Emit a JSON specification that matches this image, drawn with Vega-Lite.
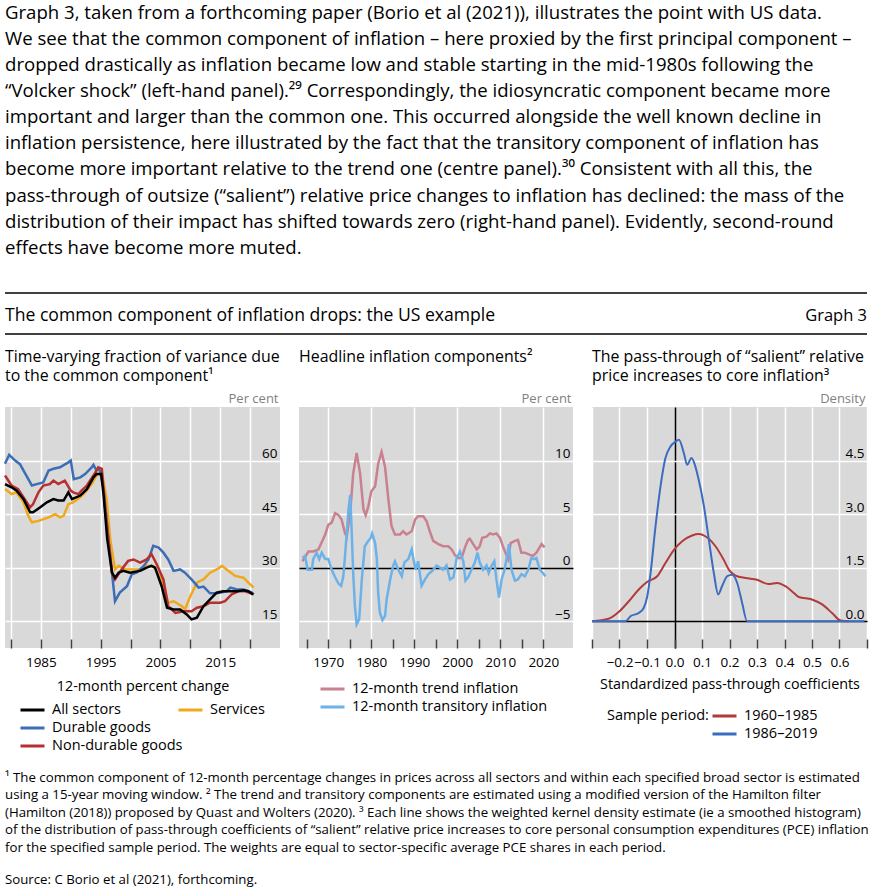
{
  "$schema": "https://vega.github.io/schema/vega-lite/v6.json",
  "background": "white",
  "padding": {"left": 0, "right": 5, "top": 3, "bottom": 0},
  "spacing": 14,
  "title": {
    "text": [
      "Graph 3, taken from a forthcoming paper (Borio et al (2021)), illustrates the point with US data.",
      "We see that the common component of inflation – here proxied by the first principal component –",
      "dropped drastically as inflation became low and stable starting in the mid-1980s following the",
      "“Volcker shock” (left-hand panel).²⁹ Correspondingly, the idiosyncratic component became more",
      "important and larger than the common one. This occurred alongside the well known decline in",
      "inflation persistence, here illustrated by the fact that the transitory component of inflation has",
      "become more important relative to the trend one (centre panel).³⁰ Consistent with all this, the",
      "pass-through of outsize (“salient”) relative price changes to inflation has declined: the mass of the",
      "distribution of their impact has shifted towards zero (right-hand panel). Evidently, second-round",
      "effects have become more muted."
    ],
    "fontSize": 18.6,
    "lineHeight": 26.1,
    "offset": 35
  },
  "config": {
    "font": "Open Sans",
    "view": {"stroke": null},
    "title": {"font": "Open Sans", "fontWeight": "normal", "color": "black", "anchor": "start", "frame": "group"},
    "axis": {"labelFont": "Open Sans", "titleFont": "Open Sans", "labelColor": "black", "titleColor": "black", "titleFontWeight": "normal"},
    "legend": {
      "labelFont": "Open Sans", "titleFont": "Open Sans", "labelFontSize": 14.5, "titleFontSize": 14.5,
      "titleFontWeight": "normal", "labelColor": "black", "titleColor": "black",
      "symbolType": "stroke", "symbolStrokeWidth": 3, "symbolSize": 576, "labelOffset": 6,
      "labelLimit": 400, "rowPadding": 0, "padding": 0, "clipHeight": 18
    }
  },
  "vconcat": [
    {
      "width": 862,
      "height": 41,
      "data": {"values": [{"left": "The common component of inflation drops: the US example", "right": "Graph 3"}]},
      "encoding": {
        "y": {"datum": 0.45, "type": "quantitative", "scale": {"domain": [0, 1], "nice": false, "zero": false}, "axis": null}
      },
      "layer": [
        {
          "mark": {"type": "rule", "color": "black", "strokeWidth": 1.3},
          "encoding": {
            "y": {"datum": 1, "type": "quantitative"},
            "x": {"datum": 0, "type": "quantitative", "scale": {"domain": [0, 1], "nice": false, "zero": false}, "axis": null},
            "x2": {"datum": 1}
          }
        },
        {
          "mark": {"type": "rule", "color": "black", "strokeWidth": 1.3},
          "encoding": {
            "y": {"datum": 0, "type": "quantitative"},
            "x": {"datum": 0, "type": "quantitative"},
            "x2": {"datum": 1}
          }
        },
        {
          "mark": {"type": "text", "align": "left", "baseline": "middle", "fontSize": 17.6, "font": "Open Sans", "color": "black"},
          "encoding": {"text": {"field": "left"}, "x": {"datum": 0, "type": "quantitative"}}
        },
        {
          "mark": {"type": "text", "align": "right", "baseline": "middle", "fontSize": 16.5, "font": "Open Sans", "color": "black"},
          "encoding": {"text": {"field": "right"}, "x": {"datum": 1, "type": "quantitative"}}
        }
      ]
    },
    {
      "bounds": "flush",
      "spacing": 19,
      "resolve": {"scale": {"color": "independent"}, "legend": {"color": "independent"}},
      "hconcat": [
        {
          "width": 275,
          "height": 241,
          "view": {"fill": "#d9d9d9", "stroke": null},
          "title": {"text": ["Time-varying fraction of variance due", "to the common component¹"], "fontSize": 15.9, "lineHeight": 19, "offset": 8},
          "data": {"values": [
            {"series": "Services", "year": 1979.0, "value": 52.0},
            {"series": "Services", "year": 1980.1, "value": 50.6},
            {"series": "Services", "year": 1980.9, "value": 51.1},
            {"series": "Services", "year": 1982.1, "value": 48.3},
            {"series": "Services", "year": 1982.9, "value": 44.5},
            {"series": "Services", "year": 1983.5, "value": 42.7},
            {"series": "Services", "year": 1984.6, "value": 43.1},
            {"series": "Services", "year": 1986.3, "value": 44.1},
            {"series": "Services", "year": 1987.4, "value": 45.0},
            {"series": "Services", "year": 1988.2, "value": 44.1},
            {"series": "Services", "year": 1988.8, "value": 44.5},
            {"series": "Services", "year": 1989.6, "value": 47.8},
            {"series": "Services", "year": 1990.4, "value": 48.3},
            {"series": "Services", "year": 1991.6, "value": 49.7},
            {"series": "Services", "year": 1992.4, "value": 51.1},
            {"series": "Services", "year": 1993.5, "value": 53.4},
            {"series": "Services", "year": 1994.3, "value": 55.8},
            {"series": "Services", "year": 1995.2, "value": 56.7},
            {"series": "Services", "year": 1996.0, "value": 49.2},
            {"series": "Services", "year": 1996.6, "value": 38.0},
            {"series": "Services", "year": 1997.4, "value": 29.5},
            {"series": "Services", "year": 1998.0, "value": 30.5},
            {"series": "Services", "year": 1999.1, "value": 29.5},
            {"series": "Services", "year": 2000.2, "value": 29.5},
            {"series": "Services", "year": 2001.6, "value": 29.5},
            {"series": "Services", "year": 2002.7, "value": 30.5},
            {"series": "Services", "year": 2003.8, "value": 30.5},
            {"series": "Services", "year": 2005.2, "value": 26.7},
            {"series": "Services", "year": 2006.3, "value": 20.2},
            {"series": "Services", "year": 2007.2, "value": 20.6},
            {"series": "Services", "year": 2008.6, "value": 19.2},
            {"series": "Services", "year": 2009.1, "value": 18.3},
            {"series": "Services", "year": 2010.0, "value": 22.0},
            {"series": "Services", "year": 2011.1, "value": 25.8},
            {"series": "Services", "year": 2012.2, "value": 26.7},
            {"series": "Services", "year": 2013.3, "value": 28.6},
            {"series": "Services", "year": 2014.4, "value": 29.5},
            {"series": "Services", "year": 2015.3, "value": 30.5},
            {"series": "Services", "year": 2016.4, "value": 29.1},
            {"series": "Services", "year": 2017.5, "value": 27.7},
            {"series": "Services", "year": 2018.9, "value": 27.2},
            {"series": "Services", "year": 2019.7, "value": 25.8},
            {"series": "Services", "year": 2020.6, "value": 24.4},
            {"series": "Durable goods", "year": 1979.0, "value": 59.1},
            {"series": "Durable goods", "year": 1979.7, "value": 61.6},
            {"series": "Durable goods", "year": 1980.7, "value": 60.0},
            {"series": "Durable goods", "year": 1981.5, "value": 59.0},
            {"series": "Durable goods", "year": 1982.9, "value": 54.8},
            {"series": "Durable goods", "year": 1983.5, "value": 53.0},
            {"series": "Durable goods", "year": 1984.3, "value": 53.4},
            {"series": "Durable goods", "year": 1985.4, "value": 53.9},
            {"series": "Durable goods", "year": 1986.3, "value": 57.2},
            {"series": "Durable goods", "year": 1987.1, "value": 57.7},
            {"series": "Durable goods", "year": 1988.2, "value": 58.1},
            {"series": "Durable goods", "year": 1989.6, "value": 59.5},
            {"series": "Durable goods", "year": 1990.0, "value": 60.0},
            {"series": "Durable goods", "year": 1990.5, "value": 54.8},
            {"series": "Durable goods", "year": 1991.6, "value": 55.3},
            {"series": "Durable goods", "year": 1992.4, "value": 56.2},
            {"series": "Durable goods", "year": 1993.5, "value": 58.1},
            {"series": "Durable goods", "year": 1993.8, "value": 58.8},
            {"series": "Durable goods", "year": 1994.3, "value": 57.2},
            {"series": "Durable goods", "year": 1994.8, "value": 57.7},
            {"series": "Durable goods", "year": 1995.5, "value": 52.0},
            {"series": "Durable goods", "year": 1996.3, "value": 38.0},
            {"series": "Durable goods", "year": 1997.4, "value": 20.6},
            {"series": "Durable goods", "year": 1998.2, "value": 23.0},
            {"series": "Durable goods", "year": 1999.4, "value": 24.8},
            {"series": "Durable goods", "year": 2000.2, "value": 28.1},
            {"series": "Durable goods", "year": 2001.0, "value": 28.6},
            {"series": "Durable goods", "year": 2002.2, "value": 30.5},
            {"series": "Durable goods", "year": 2003.0, "value": 32.3},
            {"series": "Durable goods", "year": 2003.8, "value": 36.1},
            {"series": "Durable goods", "year": 2004.7, "value": 35.6},
            {"series": "Durable goods", "year": 2005.5, "value": 34.2},
            {"series": "Durable goods", "year": 2006.3, "value": 32.3},
            {"series": "Durable goods", "year": 2007.2, "value": 29.1},
            {"series": "Durable goods", "year": 2008.3, "value": 29.5},
            {"series": "Durable goods", "year": 2009.1, "value": 28.6},
            {"series": "Durable goods", "year": 2010.2, "value": 26.7},
            {"series": "Durable goods", "year": 2011.4, "value": 24.4},
            {"series": "Durable goods", "year": 2012.2, "value": 24.7},
            {"series": "Durable goods", "year": 2013.3, "value": 22.8},
            {"series": "Durable goods", "year": 2014.4, "value": 22.8},
            {"series": "Durable goods", "year": 2016.1, "value": 23.4},
            {"series": "Durable goods", "year": 2016.7, "value": 24.4},
            {"series": "Durable goods", "year": 2017.8, "value": 23.9},
            {"series": "Durable goods", "year": 2018.9, "value": 23.9},
            {"series": "Durable goods", "year": 2020.3, "value": 23.0},
            {"series": "Durable goods", "year": 2020.6, "value": 22.5},
            {"series": "Non-durable goods", "year": 1979.0, "value": 55.8},
            {"series": "Non-durable goods", "year": 1980.1, "value": 53.0},
            {"series": "Non-durable goods", "year": 1981.2, "value": 52.0},
            {"series": "Non-durable goods", "year": 1982.3, "value": 49.2},
            {"series": "Non-durable goods", "year": 1983.2, "value": 46.9},
            {"series": "Non-durable goods", "year": 1983.7, "value": 47.8},
            {"series": "Non-durable goods", "year": 1984.6, "value": 51.1},
            {"series": "Non-durable goods", "year": 1985.4, "value": 53.0},
            {"series": "Non-durable goods", "year": 1986.5, "value": 53.4},
            {"series": "Non-durable goods", "year": 1987.1, "value": 54.4},
            {"series": "Non-durable goods", "year": 1987.9, "value": 53.4},
            {"series": "Non-durable goods", "year": 1989.0, "value": 54.4},
            {"series": "Non-durable goods", "year": 1990.0, "value": 51.6},
            {"series": "Non-durable goods", "year": 1990.4, "value": 51.1},
            {"series": "Non-durable goods", "year": 1991.3, "value": 50.6},
            {"series": "Non-durable goods", "year": 1991.8, "value": 51.6},
            {"series": "Non-durable goods", "year": 1992.7, "value": 53.0},
            {"series": "Non-durable goods", "year": 1993.8, "value": 55.8},
            {"series": "Non-durable goods", "year": 1994.6, "value": 58.1},
            {"series": "Non-durable goods", "year": 1995.2, "value": 57.7},
            {"series": "Non-durable goods", "year": 1995.7, "value": 47.3},
            {"series": "Non-durable goods", "year": 1996.3, "value": 38.0},
            {"series": "Non-durable goods", "year": 1996.9, "value": 28.6},
            {"series": "Non-durable goods", "year": 1997.4, "value": 26.7},
            {"series": "Non-durable goods", "year": 1998.5, "value": 29.5},
            {"series": "Non-durable goods", "year": 1999.6, "value": 31.9},
            {"series": "Non-durable goods", "year": 2000.5, "value": 32.3},
            {"series": "Non-durable goods", "year": 2001.6, "value": 31.4},
            {"series": "Non-durable goods", "year": 2002.7, "value": 32.3},
            {"series": "Non-durable goods", "year": 2003.5, "value": 33.8},
            {"series": "Non-durable goods", "year": 2004.4, "value": 30.9},
            {"series": "Non-durable goods", "year": 2005.5, "value": 26.7},
            {"series": "Non-durable goods", "year": 2006.3, "value": 19.2},
            {"series": "Non-durable goods", "year": 2007.5, "value": 17.3},
            {"series": "Non-durable goods", "year": 2008.9, "value": 17.8},
            {"series": "Non-durable goods", "year": 2010.2, "value": 17.8},
            {"series": "Non-durable goods", "year": 2011.1, "value": 18.8},
            {"series": "Non-durable goods", "year": 2012.2, "value": 19.2},
            {"series": "Non-durable goods", "year": 2013.3, "value": 20.2},
            {"series": "Non-durable goods", "year": 2015.0, "value": 20.2},
            {"series": "Non-durable goods", "year": 2015.8, "value": 20.6},
            {"series": "Non-durable goods", "year": 2016.9, "value": 22.5},
            {"series": "Non-durable goods", "year": 2018.1, "value": 23.4},
            {"series": "Non-durable goods", "year": 2019.2, "value": 23.4},
            {"series": "Non-durable goods", "year": 2020.6, "value": 22.5},
            {"series": "All sectors", "year": 1979.0, "value": 53.4},
            {"series": "All sectors", "year": 1980.1, "value": 52.5},
            {"series": "All sectors", "year": 1980.9, "value": 51.6},
            {"series": "All sectors", "year": 1982.1, "value": 49.2},
            {"series": "All sectors", "year": 1983.2, "value": 45.5},
            {"series": "All sectors", "year": 1983.7, "value": 45.5},
            {"series": "All sectors", "year": 1984.9, "value": 46.9},
            {"series": "All sectors", "year": 1986.0, "value": 48.3},
            {"series": "All sectors", "year": 1987.1, "value": 49.2},
            {"series": "All sectors", "year": 1987.9, "value": 48.8},
            {"series": "All sectors", "year": 1988.8, "value": 48.8},
            {"series": "All sectors", "year": 1989.6, "value": 51.1},
            {"series": "All sectors", "year": 1990.2, "value": 49.2},
            {"series": "All sectors", "year": 1991.6, "value": 50.2},
            {"series": "All sectors", "year": 1992.7, "value": 52.0},
            {"series": "All sectors", "year": 1993.8, "value": 55.3},
            {"series": "All sectors", "year": 1994.3, "value": 56.2},
            {"series": "All sectors", "year": 1995.1, "value": 56.2},
            {"series": "All sectors", "year": 1995.5, "value": 50.2},
            {"series": "All sectors", "year": 1996.1, "value": 38.0},
            {"series": "All sectors", "year": 1996.9, "value": 28.6},
            {"series": "All sectors", "year": 1997.4, "value": 27.2},
            {"series": "All sectors", "year": 1998.0, "value": 28.6},
            {"series": "All sectors", "year": 1998.8, "value": 29.1},
            {"series": "All sectors", "year": 1999.9, "value": 28.6},
            {"series": "All sectors", "year": 2001.6, "value": 29.1},
            {"series": "All sectors", "year": 2002.7, "value": 30.0},
            {"series": "All sectors", "year": 2003.5, "value": 30.5},
            {"series": "All sectors", "year": 2004.1, "value": 30.0},
            {"series": "All sectors", "year": 2005.2, "value": 24.8},
            {"series": "All sectors", "year": 2006.1, "value": 18.8},
            {"series": "All sectors", "year": 2007.2, "value": 18.3},
            {"series": "All sectors", "year": 2008.3, "value": 18.3},
            {"series": "All sectors", "year": 2009.4, "value": 16.9},
            {"series": "All sectors", "year": 2010.2, "value": 15.5},
            {"series": "All sectors", "year": 2011.1, "value": 16.0},
            {"series": "All sectors", "year": 2012.2, "value": 19.2},
            {"series": "All sectors", "year": 2013.3, "value": 21.1},
            {"series": "All sectors", "year": 2014.4, "value": 23.0},
            {"series": "All sectors", "year": 2015.5, "value": 23.4},
            {"series": "All sectors", "year": 2016.7, "value": 23.4},
            {"series": "All sectors", "year": 2017.8, "value": 23.4},
            {"series": "All sectors", "year": 2018.9, "value": 23.7},
            {"series": "All sectors", "year": 2019.7, "value": 23.4},
            {"series": "All sectors", "year": 2020.5, "value": 22.5}
          ]},
          "encoding": {
            "x": {
              "field": "year", "type": "quantitative",
              "scale": {"domain": [1979, 2025], "nice": false, "zero": false},
              "axis": {
                "values": [1980, 1985, 1990, 1995, 2000, 2005, 2010, 2015, 2020],
                "format": "d", "labelExpr": "datum.value % 10 === 5 ? datum.label : ''",
                "grid": true, "gridColor": "white", "gridWidth": 1.5, "domain": false,
                "ticks": true, "tickSize": -9, "tickColor": "#404040", "tickWidth": 1.5,
                "labelPadding": 16, "labelFontSize": 13.5, "labelFlush": false, "labelOverlap": false, "labelBound": false,
                "title": "12-month percent change", "titleFontSize": 14.3, "titlePadding": 11
              }
            },
            "y": {
              "field": "value", "type": "quantitative",
              "scale": {"domain": [7.5, 75], "nice": false, "zero": false},
              "axis": {
                "orient": "right", "values": [15, 30, 45, 60],
                "grid": true, "gridColor": "white", "gridWidth": 1.5, "domain": false, "ticks": false,
                "labelAlign": "right", "labelBaseline": "alphabetic", "labelOffset": -3, "labelPadding": -3,
                "labelFontSize": 13.5,
                "title": "Per cent", "titleAngle": 0, "titleAlign": "right", "titleBaseline": "bottom",
                "titleX": -2, "titleY": -2, "titleFontSize": 13, "titleColor": "#7f7f7f"
              }
            }
          },
          "layer": [
            {
              "transform": [{"filter": "datum.series === 'Services'"}],
              "mark": {"type": "line", "strokeWidth": 2.5},
              "encoding": {
                "color": {
                  "field": "series", "type": "nominal",
                  "scale": {"domain": ["Services"], "range": ["#f0a81c"]},
                  "legend": {"orient": "none", "legendX": 172, "legendY": 294, "title": null}
                }
              }
            },
            {
              "transform": [{"filter": "datum.series !== 'Services'"}],
              "mark": {"type": "line", "strokeWidth": 2.5},
              "encoding": {
                "color": {
                  "field": "series", "type": "nominal",
                  "scale": {"domain": ["All sectors", "Durable goods", "Non-durable goods"], "range": ["#000000", "#3c6eb4", "#b5302f"]},
                  "legend": {"orient": "none", "legendX": 14, "legendY": 294, "title": null, "direction": "vertical"}
                }
              }
            }
          ],
          "resolve": {"scale": {"color": "independent"}}
        },
        {
          "width": 274,
          "height": 241,
          "view": {"fill": "#d9d9d9", "stroke": null},
          "title": {"text": "Headline inflation components²", "fontSize": 15.9, "lineHeight": 19, "offset": 27},
          "data": {"values": [
            {"series": "12-month trend inflation", "year": 1964.0, "value": 0.6},
            {"series": "12-month trend inflation", "year": 1965.4, "value": 1.5},
            {"series": "12-month trend inflation", "year": 1966.5, "value": 1.5},
            {"series": "12-month trend inflation", "year": 1967.7, "value": 1.7},
            {"series": "12-month trend inflation", "year": 1969.3, "value": 3.1},
            {"series": "12-month trend inflation", "year": 1970.0, "value": 4.0},
            {"series": "12-month trend inflation", "year": 1970.8, "value": 4.2},
            {"series": "12-month trend inflation", "year": 1971.6, "value": 5.1},
            {"series": "12-month trend inflation", "year": 1972.4, "value": 4.9},
            {"series": "12-month trend inflation", "year": 1973.1, "value": 4.5},
            {"series": "12-month trend inflation", "year": 1973.9, "value": 3.2},
            {"series": "12-month trend inflation", "year": 1974.3, "value": 2.9},
            {"series": "12-month trend inflation", "year": 1975.1, "value": 5.1},
            {"series": "12-month trend inflation", "year": 1975.8, "value": 8.8},
            {"series": "12-month trend inflation", "year": 1976.6, "value": 10.7},
            {"series": "12-month trend inflation", "year": 1977.4, "value": 8.8},
            {"series": "12-month trend inflation", "year": 1978.2, "value": 5.4},
            {"series": "12-month trend inflation", "year": 1978.7, "value": 4.9},
            {"series": "12-month trend inflation", "year": 1979.3, "value": 5.7},
            {"series": "12-month trend inflation", "year": 1980.0, "value": 7.1},
            {"series": "12-month trend inflation", "year": 1980.9, "value": 7.6},
            {"series": "12-month trend inflation", "year": 1981.6, "value": 9.7},
            {"series": "12-month trend inflation", "year": 1982.4, "value": 10.8},
            {"series": "12-month trend inflation", "year": 1983.2, "value": 9.4},
            {"series": "12-month trend inflation", "year": 1984.0, "value": 6.3},
            {"series": "12-month trend inflation", "year": 1984.7, "value": 3.9},
            {"series": "12-month trend inflation", "year": 1985.5, "value": 3.1},
            {"series": "12-month trend inflation", "year": 1986.7, "value": 3.1},
            {"series": "12-month trend inflation", "year": 1987.4, "value": 3.4},
            {"series": "12-month trend inflation", "year": 1988.2, "value": 3.1},
            {"series": "12-month trend inflation", "year": 1989.4, "value": 3.4},
            {"series": "12-month trend inflation", "year": 1990.2, "value": 4.5},
            {"series": "12-month trend inflation", "year": 1990.9, "value": 4.8},
            {"series": "12-month trend inflation", "year": 1992.1, "value": 4.8},
            {"series": "12-month trend inflation", "year": 1992.9, "value": 4.3},
            {"series": "12-month trend inflation", "year": 1993.6, "value": 3.4},
            {"series": "12-month trend inflation", "year": 1994.4, "value": 2.5},
            {"series": "12-month trend inflation", "year": 1995.6, "value": 2.2},
            {"series": "12-month trend inflation", "year": 1996.7, "value": 2.0},
            {"series": "12-month trend inflation", "year": 1997.9, "value": 2.0},
            {"series": "12-month trend inflation", "year": 1998.7, "value": 1.7},
            {"series": "12-month trend inflation", "year": 1999.4, "value": 1.2},
            {"series": "12-month trend inflation", "year": 2000.2, "value": 0.9},
            {"series": "12-month trend inflation", "year": 2001.0, "value": 0.9},
            {"series": "12-month trend inflation", "year": 2001.8, "value": 1.9},
            {"series": "12-month trend inflation", "year": 2002.5, "value": 2.6},
            {"series": "12-month trend inflation", "year": 2002.9, "value": 2.7},
            {"series": "12-month trend inflation", "year": 2003.7, "value": 2.2},
            {"series": "12-month trend inflation", "year": 2004.5, "value": 1.7},
            {"series": "12-month trend inflation", "year": 2005.2, "value": 2.0},
            {"series": "12-month trend inflation", "year": 2005.8, "value": 2.8},
            {"series": "12-month trend inflation", "year": 2006.8, "value": 2.9},
            {"series": "12-month trend inflation", "year": 2007.6, "value": 3.2},
            {"series": "12-month trend inflation", "year": 2008.3, "value": 3.1},
            {"series": "12-month trend inflation", "year": 2009.1, "value": 3.2},
            {"series": "12-month trend inflation", "year": 2009.9, "value": 2.8},
            {"series": "12-month trend inflation", "year": 2010.7, "value": 1.9},
            {"series": "12-month trend inflation", "year": 2011.8, "value": 0.8},
            {"series": "12-month trend inflation", "year": 2012.4, "value": 2.3},
            {"series": "12-month trend inflation", "year": 2013.4, "value": 2.5},
            {"series": "12-month trend inflation", "year": 2014.1, "value": 2.6},
            {"series": "12-month trend inflation", "year": 2014.9, "value": 1.4},
            {"series": "12-month trend inflation", "year": 2015.7, "value": 1.4},
            {"series": "12-month trend inflation", "year": 2016.9, "value": 1.2},
            {"series": "12-month trend inflation", "year": 2017.6, "value": 1.1},
            {"series": "12-month trend inflation", "year": 2018.4, "value": 1.4},
            {"series": "12-month trend inflation", "year": 2019.6, "value": 2.2},
            {"series": "12-month trend inflation", "year": 2020.3, "value": 1.9},
            {"series": "12-month transitory inflation", "year": 1964.0, "value": 0.9},
            {"series": "12-month transitory inflation", "year": 1964.6, "value": 1.1},
            {"series": "12-month transitory inflation", "year": 1965.2, "value": -0.2},
            {"series": "12-month transitory inflation", "year": 1966.2, "value": -0.2},
            {"series": "12-month transitory inflation", "year": 1966.5, "value": 0.8},
            {"series": "12-month transitory inflation", "year": 1967.3, "value": 1.4},
            {"series": "12-month transitory inflation", "year": 1967.9, "value": 0.8},
            {"series": "12-month transitory inflation", "year": 1968.5, "value": 1.4},
            {"series": "12-month transitory inflation", "year": 1969.3, "value": 0.8},
            {"series": "12-month transitory inflation", "year": 1970.0, "value": 0.8},
            {"series": "12-month transitory inflation", "year": 1970.8, "value": -0.2},
            {"series": "12-month transitory inflation", "year": 1971.6, "value": -0.9},
            {"series": "12-month transitory inflation", "year": 1972.4, "value": -1.5},
            {"series": "12-month transitory inflation", "year": 1973.0, "value": -1.7},
            {"series": "12-month transitory inflation", "year": 1973.5, "value": -0.8},
            {"series": "12-month transitory inflation", "year": 1973.9, "value": 1.1},
            {"series": "12-month transitory inflation", "year": 1974.3, "value": 3.2},
            {"series": "12-month transitory inflation", "year": 1974.7, "value": 5.4},
            {"series": "12-month transitory inflation", "year": 1975.1, "value": 6.8},
            {"series": "12-month transitory inflation", "year": 1975.4, "value": 3.9},
            {"series": "12-month transitory inflation", "year": 1975.8, "value": -0.5},
            {"series": "12-month transitory inflation", "year": 1976.2, "value": -3.6},
            {"series": "12-month transitory inflation", "year": 1976.6, "value": -5.3},
            {"series": "12-month transitory inflation", "year": 1977.2, "value": -4.8},
            {"series": "12-month transitory inflation", "year": 1977.8, "value": -1.1},
            {"series": "12-month transitory inflation", "year": 1978.5, "value": 2.0},
            {"series": "12-month transitory inflation", "year": 1979.3, "value": 2.5},
            {"series": "12-month transitory inflation", "year": 1979.9, "value": 2.8},
            {"series": "12-month transitory inflation", "year": 1980.2, "value": 3.2},
            {"series": "12-month transitory inflation", "year": 1980.9, "value": 2.3},
            {"series": "12-month transitory inflation", "year": 1981.3, "value": 0.8},
            {"series": "12-month transitory inflation", "year": 1981.6, "value": -2.3},
            {"series": "12-month transitory inflation", "year": 1982.0, "value": -4.2},
            {"series": "12-month transitory inflation", "year": 1982.6, "value": -4.9},
            {"series": "12-month transitory inflation", "year": 1983.2, "value": -4.5},
            {"series": "12-month transitory inflation", "year": 1983.6, "value": -2.9},
            {"series": "12-month transitory inflation", "year": 1984.4, "value": -1.1},
            {"series": "12-month transitory inflation", "year": 1985.1, "value": 0.2},
            {"series": "12-month transitory inflation", "year": 1985.5, "value": 0.6},
            {"series": "12-month transitory inflation", "year": 1986.3, "value": -0.2},
            {"series": "12-month transitory inflation", "year": 1987.1, "value": -0.8},
            {"series": "12-month transitory inflation", "year": 1987.7, "value": 0.5},
            {"series": "12-month transitory inflation", "year": 1988.6, "value": 0.8},
            {"series": "12-month transitory inflation", "year": 1989.4, "value": 1.7},
            {"series": "12-month transitory inflation", "year": 1989.8, "value": 0.8},
            {"series": "12-month transitory inflation", "year": 1990.3, "value": -0.2},
            {"series": "12-month transitory inflation", "year": 1990.9, "value": 0.6},
            {"series": "12-month transitory inflation", "year": 1991.7, "value": -1.7},
            {"series": "12-month transitory inflation", "year": 1992.5, "value": -1.1},
            {"series": "12-month transitory inflation", "year": 1993.3, "value": -0.6},
            {"series": "12-month transitory inflation", "year": 1994.4, "value": -0.2},
            {"series": "12-month transitory inflation", "year": 1995.2, "value": 0.2},
            {"series": "12-month transitory inflation", "year": 1996.0, "value": 0.0},
            {"series": "12-month transitory inflation", "year": 1996.7, "value": -0.2},
            {"series": "12-month transitory inflation", "year": 1997.5, "value": 0.2},
            {"series": "12-month transitory inflation", "year": 1998.3, "value": -1.1},
            {"series": "12-month transitory inflation", "year": 1999.1, "value": -0.9},
            {"series": "12-month transitory inflation", "year": 1999.8, "value": 0.8},
            {"series": "12-month transitory inflation", "year": 2000.6, "value": 1.5},
            {"series": "12-month transitory inflation", "year": 2001.4, "value": 0.6},
            {"series": "12-month transitory inflation", "year": 2001.9, "value": -1.2},
            {"series": "12-month transitory inflation", "year": 2002.5, "value": -0.9},
            {"series": "12-month transitory inflation", "year": 2003.3, "value": -0.2},
            {"series": "12-month transitory inflation", "year": 2004.1, "value": 0.5},
            {"series": "12-month transitory inflation", "year": 2004.7, "value": 1.4},
            {"series": "12-month transitory inflation", "year": 2005.2, "value": 0.5},
            {"series": "12-month transitory inflation", "year": 2006.0, "value": -0.2},
            {"series": "12-month transitory inflation", "year": 2006.8, "value": 0.2},
            {"series": "12-month transitory inflation", "year": 2007.3, "value": -0.5},
            {"series": "12-month transitory inflation", "year": 2008.0, "value": 0.2},
            {"series": "12-month transitory inflation", "year": 2008.6, "value": 0.6},
            {"series": "12-month transitory inflation", "year": 2009.1, "value": -1.1},
            {"series": "12-month transitory inflation", "year": 2009.7, "value": -2.8},
            {"series": "12-month transitory inflation", "year": 2010.3, "value": -1.1},
            {"series": "12-month transitory inflation", "year": 2011.0, "value": -0.2},
            {"series": "12-month transitory inflation", "year": 2011.7, "value": 1.4},
            {"series": "12-month transitory inflation", "year": 2012.0, "value": 2.2},
            {"series": "12-month transitory inflation", "year": 2012.6, "value": -0.2},
            {"series": "12-month transitory inflation", "year": 2013.4, "value": -1.2},
            {"series": "12-month transitory inflation", "year": 2014.1, "value": -1.1},
            {"series": "12-month transitory inflation", "year": 2014.9, "value": -0.6},
            {"series": "12-month transitory inflation", "year": 2015.7, "value": -0.8},
            {"series": "12-month transitory inflation", "year": 2016.5, "value": -0.2},
            {"series": "12-month transitory inflation", "year": 2017.2, "value": 0.9},
            {"series": "12-month transitory inflation", "year": 2017.9, "value": 0.8},
            {"series": "12-month transitory inflation", "year": 2018.4, "value": 0.9},
            {"series": "12-month transitory inflation", "year": 2019.2, "value": -0.2},
            {"series": "12-month transitory inflation", "year": 2019.9, "value": -0.5},
            {"series": "12-month transitory inflation", "year": 2020.5, "value": -0.8}
          ]},
          "mark": {"type": "line", "strokeWidth": 2.5},
          "encoding": {
            "x": {
              "field": "year", "type": "quantitative",
              "scale": {"domain": [1963.2, 2026.9], "nice": false, "zero": false},
              "axis": {
                "values": [1965, 1970, 1975, 1980, 1985, 1990, 1995, 2000, 2005, 2010, 2015, 2020],
                "format": "d", "labelExpr": "datum.value % 10 === 0 ? datum.label : ''",
                "grid": true, "gridColor": "white", "gridWidth": 1.5,
                "gridOpacity": {"condition": {"test": "datum.value % 10 === 0", "value": 1}, "value": 0},
                "domain": false,
                "ticks": true, "tickSize": -9, "tickColor": "#404040", "tickWidth": 1.5,
                "labelPadding": 16, "labelFontSize": 13.5, "labelFlush": false, "labelOverlap": false, "labelBound": false,
                "title": null
              }
            },
            "y": {
              "field": "value", "type": "quantitative",
              "scale": {"domain": [-7.5, 15], "nice": false, "zero": false},
              "axis": {
                "orient": "right", "values": [-5, 0, 5, 10],
                "grid": true, "gridWidth": 1.5,
                "gridColor": {"condition": {"test": "datum.value === 0", "value": "black"}, "value": "white"},
                "domain": false, "ticks": false,
                "labelAlign": "right", "labelBaseline": "alphabetic", "labelOffset": -3, "labelPadding": -3,
                "labelFontSize": 13.5,
                "title": "Per cent", "titleAngle": 0, "titleAlign": "right", "titleBaseline": "bottom",
                "titleX": -2, "titleY": -2, "titleFontSize": 13, "titleColor": "#7f7f7f"
              }
            },
            "color": {
              "field": "series", "type": "nominal",
              "scale": {"domain": ["12-month trend inflation", "12-month transitory inflation"], "range": ["#c9808f", "#6cb2e8"]},
              "legend": {"orient": "none", "legendX": 20, "legendY": 273, "title": null, "direction": "vertical"}
            }
          }
        },
        {
          "width": 275,
          "height": 241,
          "view": {"fill": "#d9d9d9", "stroke": null},
          "title": {"text": ["The pass-through of “salient” relative", "price increases to core inflation³"], "fontSize": 15.9, "lineHeight": 19, "offset": 8},
          "data": {"values": [
            {"period": "1960–1985", "coef": -0.30, "density": 0.0},
            {"period": "1960–1985", "coef": -0.24, "density": 0.07},
            {"period": "1960–1985", "coef": -0.20, "density": 0.28},
            {"period": "1960–1985", "coef": -0.166, "density": 0.56},
            {"period": "1960–1985", "coef": -0.13, "density": 0.89},
            {"period": "1960–1985", "coef": -0.10, "density": 1.10},
            {"period": "1960–1985", "coef": -0.063, "density": 1.26},
            {"period": "1960–1985", "coef": -0.033, "density": 1.63},
            {"period": "1960–1985", "coef": -0.002, "density": 2.0},
            {"period": "1960–1985", "coef": 0.028, "density": 2.24},
            {"period": "1960–1985", "coef": 0.064, "density": 2.40},
            {"period": "1960–1985", "coef": 0.088, "density": 2.44},
            {"period": "1960–1985", "coef": 0.112, "density": 2.38},
            {"period": "1960–1985", "coef": 0.149, "density": 2.10},
            {"period": "1960–1985", "coef": 0.179, "density": 1.72},
            {"period": "1960–1985", "coef": 0.198, "density": 1.44},
            {"period": "1960–1985", "coef": 0.222, "density": 1.28},
            {"period": "1960–1985", "coef": 0.258, "density": 1.21},
            {"period": "1960–1985", "coef": 0.30, "density": 1.16},
            {"period": "1960–1985", "coef": 0.343, "density": 1.04},
            {"period": "1960–1985", "coef": 0.373, "density": 1.07},
            {"period": "1960–1985", "coef": 0.403, "density": 0.98},
            {"period": "1960–1985", "coef": 0.434, "density": 0.79},
            {"period": "1960–1985", "coef": 0.452, "density": 0.68},
            {"period": "1960–1985", "coef": 0.50, "density": 0.61},
            {"period": "1960–1985", "coef": 0.537, "density": 0.47},
            {"period": "1960–1985", "coef": 0.573, "density": 0.23},
            {"period": "1960–1985", "coef": 0.604, "density": 0.02},
            {"period": "1960–1985", "coef": 0.634, "density": 0.0},
            {"period": "1986–2019", "coef": -0.30, "density": 0.0},
            {"period": "1986–2019", "coef": -0.178, "density": 0.0},
            {"period": "1986–2019", "coef": -0.16, "density": 0.14},
            {"period": "1986–2019", "coef": -0.13, "density": 0.23},
            {"period": "1986–2019", "coef": -0.112, "density": 0.37},
            {"period": "1986–2019", "coef": -0.099, "density": 0.70},
            {"period": "1986–2019", "coef": -0.087, "density": 1.35},
            {"period": "1986–2019", "coef": -0.069, "density": 2.66},
            {"period": "1986–2019", "coef": -0.051, "density": 3.77},
            {"period": "1986–2019", "coef": -0.033, "density": 4.57},
            {"period": "1986–2019", "coef": -0.015, "density": 4.89},
            {"period": "1986–2019", "coef": 0.004, "density": 5.03},
            {"period": "1986–2019", "coef": 0.016, "density": 5.08},
            {"period": "1986–2019", "coef": 0.034, "density": 4.71},
            {"period": "1986–2019", "coef": 0.046, "density": 4.38},
            {"period": "1986–2019", "coef": 0.062, "density": 4.57},
            {"period": "1986–2019", "coef": 0.074, "density": 4.38},
            {"period": "1986–2019", "coef": 0.088, "density": 3.96},
            {"period": "1986–2019", "coef": 0.107, "density": 3.22},
            {"period": "1986–2019", "coef": 0.125, "density": 2.28},
            {"period": "1986–2019", "coef": 0.143, "density": 1.35},
            {"period": "1986–2019", "coef": 0.159, "density": 0.75},
            {"period": "1986–2019", "coef": 0.173, "density": 0.98},
            {"period": "1986–2019", "coef": 0.192, "density": 1.26},
            {"period": "1986–2019", "coef": 0.21, "density": 1.30},
            {"period": "1986–2019", "coef": 0.228, "density": 1.07},
            {"period": "1986–2019", "coef": 0.246, "density": 0.51},
            {"period": "1986–2019", "coef": 0.264, "density": 0.0},
            {"period": "1986–2019", "coef": 0.69, "density": 0.0}
          ]},
          "mark": {"type": "line", "strokeWidth": 2, "interpolate": "monotone"},
          "encoding": {
            "x": {
              "field": "coef", "type": "quantitative",
              "scale": {"domain": [-0.3, 0.7], "nice": false, "zero": false},
              "axis": {
                "values": [-0.3, -0.2, -0.1, 0, 0.1, 0.2, 0.3, 0.4, 0.5, 0.6, 0.7],
                "format": ".1f", "labelExpr": "datum.value > -0.25 && datum.value < 0.65 ? datum.label : ''",
                "grid": true, "gridWidth": 1.5,
                "gridColor": {"condition": {"test": "abs(datum.value) < 0.001", "value": "black"}, "value": "white"},
                "domain": false,
                "ticks": true, "tickSize": -9, "tickColor": "#404040", "tickWidth": 1.5,
                "labelPadding": 16, "labelFontSize": 13.5, "labelFlush": false, "labelOverlap": false, "labelBound": false,
                "title": "Standardized pass-through coefficients", "titleFontSize": 14.3, "titlePadding": 9
              }
            },
            "y": {
              "field": "density", "type": "quantitative",
              "scale": {"domain": [-0.75, 6], "nice": false, "zero": false},
              "axis": {
                "orient": "right", "values": [0, 1.5, 3, 4.5], "format": ".1f",
                "grid": true, "gridWidth": 1.5,
                "gridColor": {"condition": {"test": "datum.value === 0", "value": "black"}, "value": "white"},
                "domain": false, "ticks": false,
                "labelAlign": "right", "labelBaseline": "alphabetic", "labelOffset": -3, "labelPadding": -3,
                "labelFontSize": 13.5,
                "title": "Density", "titleAngle": 0, "titleAlign": "right", "titleBaseline": "bottom",
                "titleX": -2, "titleY": -2, "titleFontSize": 13, "titleColor": "#7f7f7f"
              }
            },
            "color": {
              "field": "period", "type": "nominal",
              "scale": {"domain": ["1960–1985", "1986–2019"], "range": ["#b23a3a", "#3b6cc0"]},
              "legend": {"orient": "none", "legendX": 15, "legendY": 300, "title": "Sample period:", "titleOrient": "left", "titleAnchor": "start", "titleBaseline": "line-top", "titleLineHeight": 18, "titlePadding": 2, "direction": "vertical"}
            }
          }
        }
      ]
    },
    {
      "width": 862,
      "height": 1,
      "data": {"values": []},
      "mark": {"type": "rule"},
      "encoding": {},
      "title": {
        "text": [
          "¹  The common component of 12-month percentage changes in prices across all sectors and within each specified broad sector is estimated",
          "using a 15-year moving window.   ²  The trend and transitory components are estimated using a modified version of the Hamilton filter",
          "(Hamilton (2018)) proposed by Quast and Wolters (2020).   ³  Each line shows the weighted kernel density estimate (ie a smoothed histogram)",
          "of the distribution of pass-through coefficients of “salient” relative price increases to core personal consumption expenditures (PCE) inflation",
          "for the specified sample period. The weights are equal to sector-specific average PCE shares in each period."
        ],
        "orient": "bottom",
        "fontSize": 13.25,
        "lineHeight": 17.4,
        "offset": 2,
        "subtitle": "Source: C Borio et al (2021), forthcoming.",
        "subtitleFont": "Open Sans",
        "subtitleFontSize": 13.25,
        "subtitleColor": "black",
        "subtitlePadding": 19.2
      }
    }
  ]
}
